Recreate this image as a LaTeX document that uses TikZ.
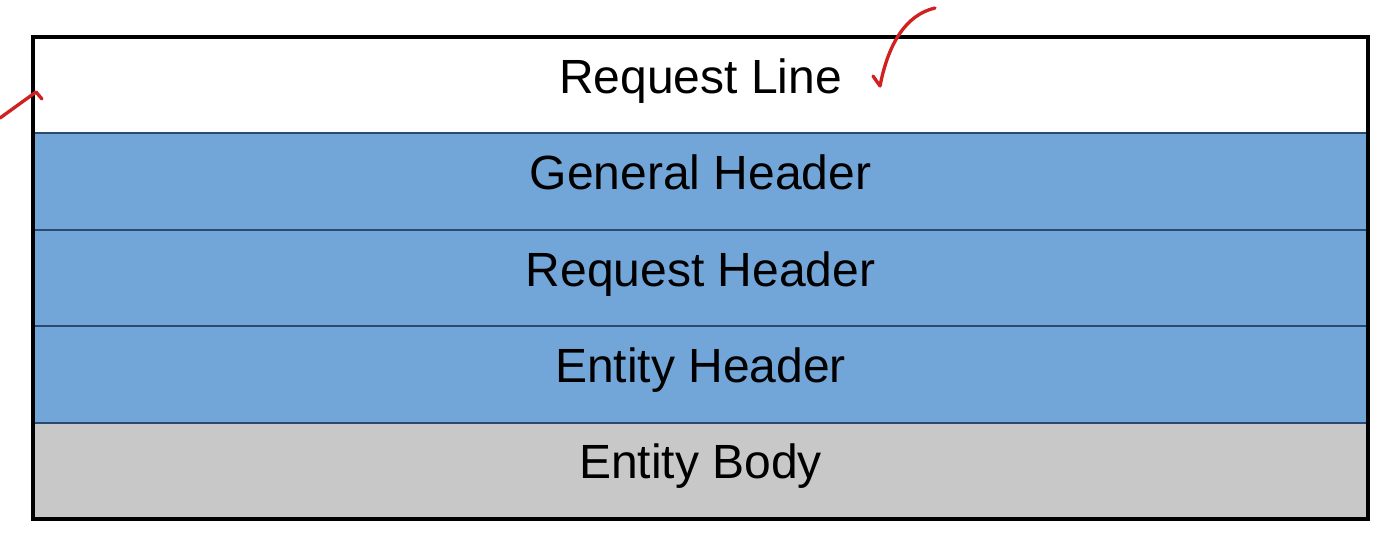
\documentclass[tikz,border=0pt]{standalone}
\usepackage{fontspec}
\setmainfont{Liberation Sans}
\usetikzlibrary{positioning}
\definecolor{hdrblue}{RGB}{114,166,216}
\definecolor{bodygray}{RGB}{200,200,200}
\definecolor{rowline}{RGB}{42,74,114}
\definecolor{pen}{RGB}{208,32,32}

\begin{document}
\begin{tikzpicture}[x=0.75pt,y=-0.75pt,
        row/.style={rectangle,draw=rowline,line width=1.5pt,minimum width=1001.25pt,
            minimum height=72.3pt,outer sep=0pt,inner sep=0pt,
            font=\fontsize{36}{43}\selectfont,text depth=14pt}]
    \useasboundingbox (0,0) rectangle (1378,532);

\node[row,fill=white] (line) at (700.5,85.2) {Request Line};
\node[row,fill=hdrblue,below=0pt of line] (general) {General Header};
\node[row,fill=hdrblue,below=0pt of general] (request) {Request Header};
\node[row,fill=hdrblue,below=0pt of request] (entity) {Entity Header};
\node[row,fill=bodygray,below=0pt of entity] (body) {Entity Body};

\draw[line width=3pt] (line.north west) rectangle (body.south east);

% pen marks
\draw[pen, line width=2.5pt, line cap=round, line join=round] (0,118) -- (36,92) -- (42,99);
\draw[pen, line width=2.5pt, line cap=round, line join=round] (873,76) -- (880,86) .. controls (888,45) and (905,15) .. (935,8);

\end{tikzpicture}
\end{document}
